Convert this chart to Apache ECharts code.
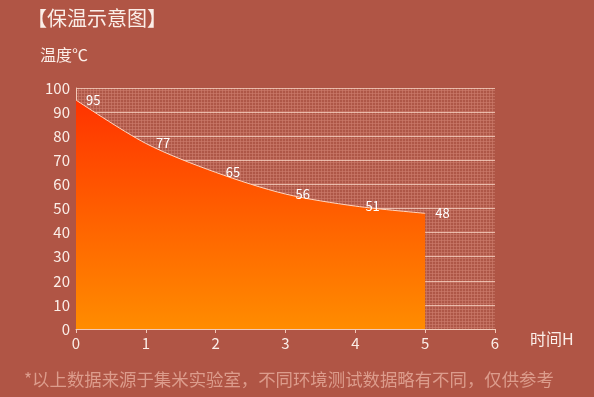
<!DOCTYPE html>
<html>
<head>
<meta charset="utf-8">
<script src="https://cdn.jsdelivr.net/npm/echarts@6/dist/echarts.min.js"></script>
<style>
	html, body { margin: 0; padding: 0; background: #b05545; }
	#main { width: 594px; height: 397px; }
</style>
</head>
<body>
<div id="main"></div>
<script>
const hours = [0, 1, 2, 3, 4, 5]
const temps = [95, 77, 65, 56, 51, 48]
const xTicks = [0, 1, 2, 3, 4, 5, 6]

// fine mesh texture for the plot area
const tile = document.createElement("canvas")
tile.width = 3
tile.height = 3
const tctx = tile.getContext("2d")
tctx.fillStyle = "#ae5747"
tctx.fillRect(0, 0, 3, 3)
tctx.fillStyle = "rgba(205,125,110,0.6)"
tctx.fillRect(0, 0, 3, 1)
tctx.fillRect(0, 0, 1, 3)

const chart = echarts.init(document.getElementById("main"))
const font = "'Noto Sans CJK SC', 'Noto Sans', sans-serif"

const option = {
	backgroundColor: "#b05545",
	textStyle: { fontFamily: font },
	title: {
		text: "【保温示意图】",
		left: 22,
		top: 3,
		textStyle: { color: "#fbeee8", fontSize: 20, fontWeight: "normal", fontFamily: font }
	},
	graphic: [
		{
			type: "text",
			left: 24,
			top: 371,
			style: {
				text: "*以上数据来源于集米实验室，不同环境测试数据略有不同，仅供参考",
				fill: "#dc9c8c",
				fontSize: 17.4,
				fontFamily: font
			}
		}
	],
	grid: {
		left: 76,
		right: 99,
		top: 88,
		bottom: 68,
		show: true,
		borderWidth: 0,
		backgroundColor: { image: tile, repeat: "repeat" }
	},
	xAxis: {
		type: "value",
		min: 0,
		max: 6,
		interval: 1,
		name: "时间H",
		nameLocation: "end",
		nameGap: 35,
		nameTextStyle: { color: "#fbeee8", fontSize: 16, verticalAlign: "top", padding: [2, 0, 0, 0] },
		axisLine: { show: true, lineStyle: { color: "#f2c9b8", width: 1 } },
		axisTick: { show: true, length: 4, lineStyle: { color: "#f2c9b8" } },
		axisLabel: {
			color: "#fbeee8",
			fontSize: 15,
			margin: 7,
			formatter: v => (xTicks.includes(v) ? String(v) : "")
		},
		splitLine: { show: false }
	},
	yAxis: {
		type: "value",
		min: 0,
		max: 100,
		interval: 10,
		name: "温度℃",
		nameLocation: "end",
		nameGap: 25,
		nameTextStyle: { color: "#fbeee8", fontSize: 16, align: "center", padding: [0, 0, 0, -24] },
		axisLine: { show: true, lineStyle: { color: "#f2c9b8", width: 1 } },
		axisTick: { show: false },
		axisLabel: { color: "#fbeee8", fontSize: 15, margin: 6 },
		splitLine: { show: true, lineStyle: { color: "rgba(255,225,210,0.7)", width: 1 } }
	},
	series: [
		{
			type: "line",
			data: hours.map((h, i) => [h, temps[i]]),
			smooth: 0.3,
			showSymbol: true,
			symbol: "circle",
			symbolSize: 0.1,
			itemStyle: { color: "#ffd6c0" },
			lineStyle: { color: "#ffd6c0", width: 1 },
			areaStyle: {
				opacity: 1,
				color: new echarts.graphic.LinearGradient(0, 0, 0, 1, [
					{ offset: 0, color: "#ff3300" },
					{ offset: 1, color: "#ff8c00" }
				])
			},
			label: {
				show: true,
				position: "right",
				distance: 10,
				color: "#fff",
				fontSize: 13
			},
			z: 3
		}
	]
}
chart.setOption(option)
</script>
</body>
</html>
